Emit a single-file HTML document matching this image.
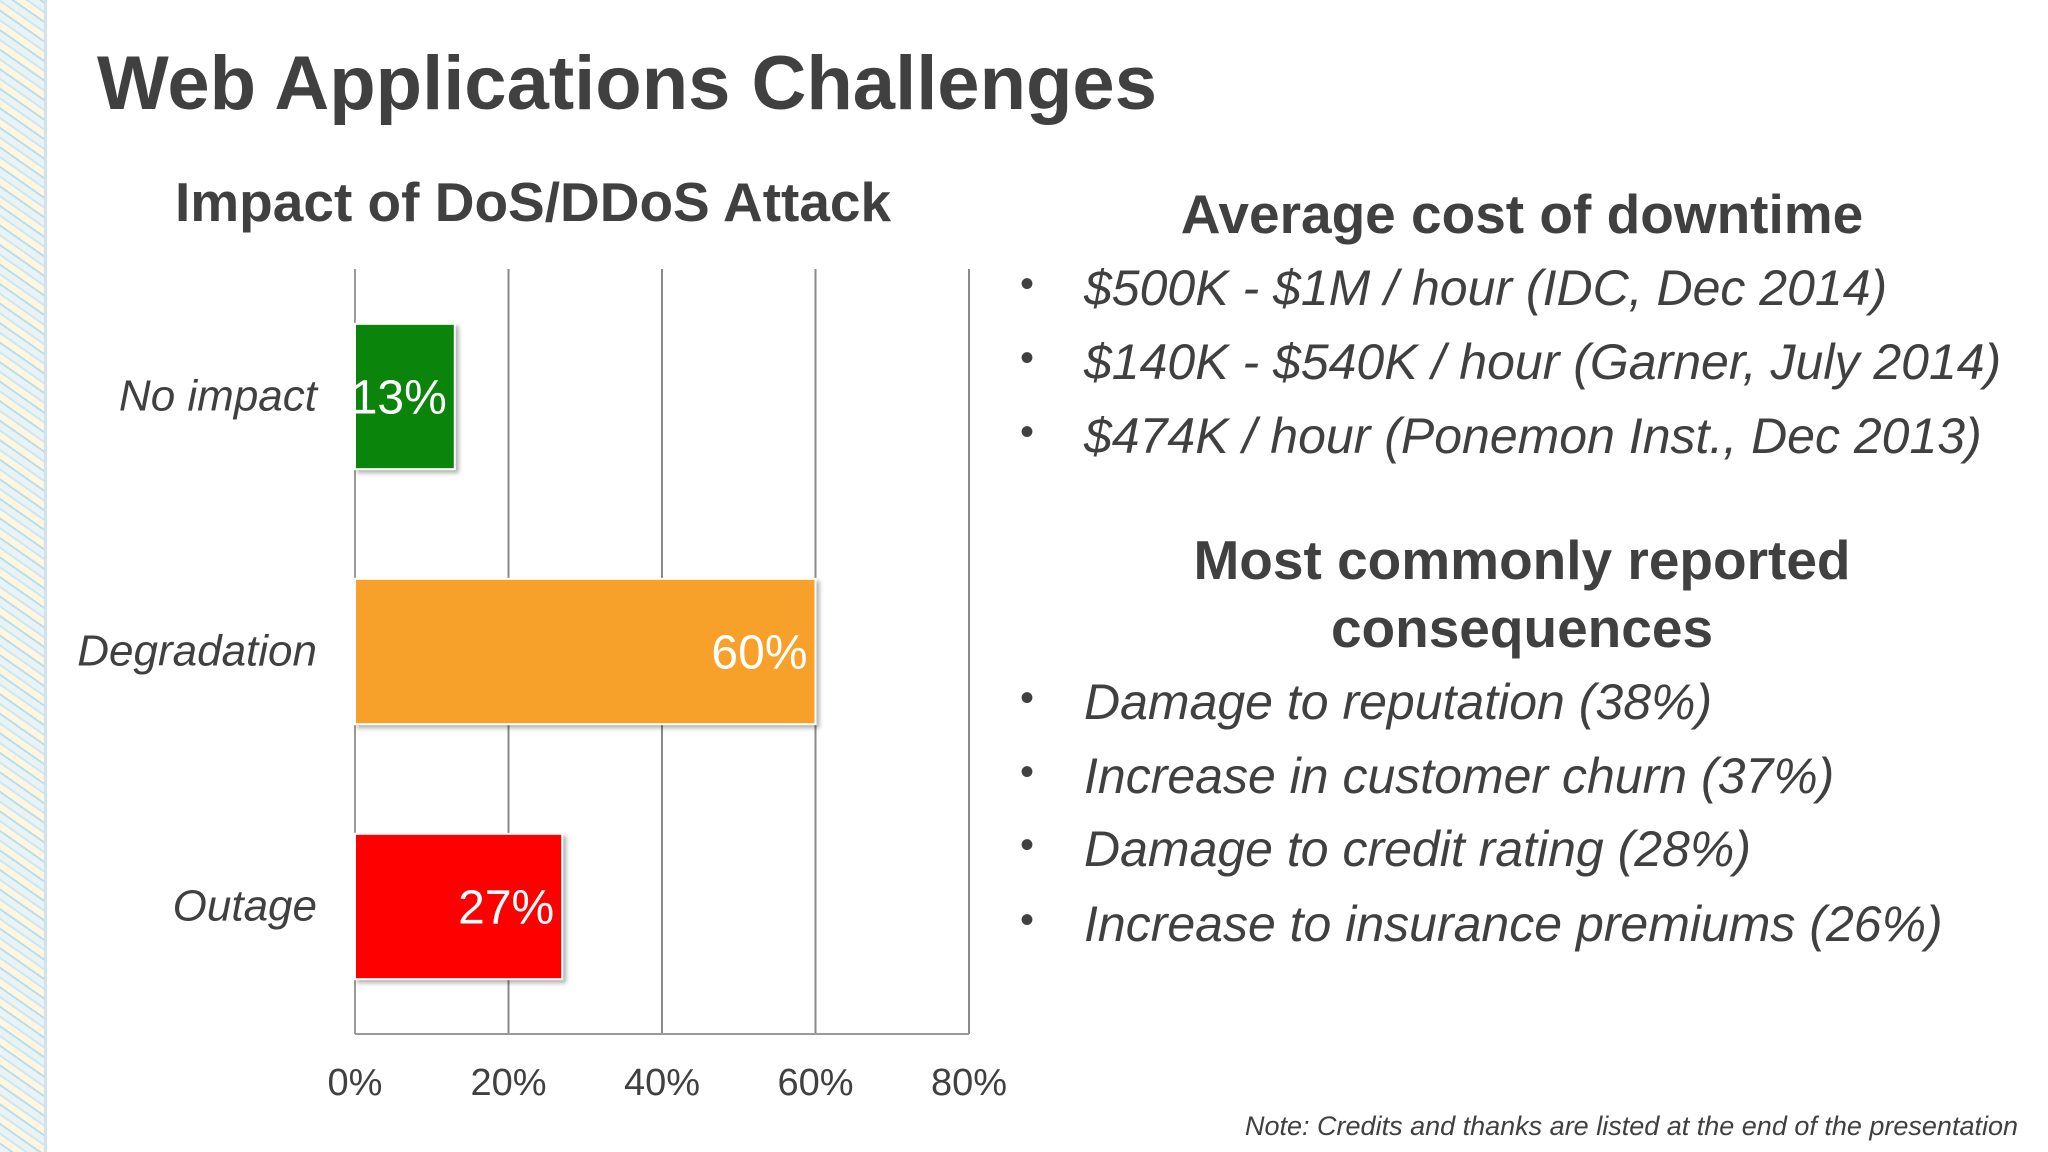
<!DOCTYPE html>
<html><head><meta charset="utf-8"><style>
body{margin:0;width:2048px;height:1152px;background:#fff;position:relative;overflow:hidden;font-family:"Liberation Sans",sans-serif;color:#404040}
.t{position:absolute;white-space:nowrap}
.b{font-weight:bold}
.i{font-style:italic}
</style></head><body>
<div style="position:absolute;left:0;top:0;width:44px;height:1152px;background:repeating-linear-gradient(35deg,#e8f3f8 0 6px,#bcdde8 6px 8px,#fff6e0 8px 14px,#cfe6ef 14px 16px);border-right:3px solid #cfe3ee"></div>
<div class="t b" style="left:97px;top:40px;font-size:76px">Web Applications Challenges</div>
<div class="t b" style="left:175px;top:170px;font-size:55px">Impact of DoS/DDoS Attack</div>
<svg id="chart" width="2048" height="1152" style="position:absolute;left:0;top:0"></svg>
<div class="t b" style="left:1522px;top:182px;font-size:55px;transform:translateX(-50%)">Average cost of downtime</div>
<div>
<div class="t" style="left:1020px;top:262px;font-size:40px">•</div><div class="t i" style="left:1084px;top:259px;font-size:50px">$500K - $1M / hour (IDC, Dec 2014)</div>
<div class="t" style="left:1020px;top:336px;font-size:40px">•</div><div class="t i" style="left:1084px;top:333px;font-size:50px">$140K - $540K / hour (Garner, July 2014)</div>
<div class="t" style="left:1020px;top:410px;font-size:40px">•</div><div class="t i" style="left:1084px;top:407px;font-size:50px">$474K / hour (Ponemon Inst., Dec 2013)</div>
</div>
<div class="t b" style="left:1522px;top:526px;font-size:55px;transform:translateX(-50%);text-align:center;line-height:68px">Most commonly reported<br>consequences</div>
<div>
<div class="t" style="left:1020px;top:676px;font-size:40px">•</div><div class="t i" style="left:1084px;top:673px;font-size:50px">Damage to reputation (38%)</div>
<div class="t" style="left:1020px;top:750px;font-size:40px">•</div><div class="t i" style="left:1084px;top:747px;font-size:50px">Increase in customer churn (37%)</div>
<div class="t" style="left:1020px;top:823px;font-size:40px">•</div><div class="t i" style="left:1084px;top:820px;font-size:50px">Damage to credit rating (28%)</div>
<div class="t" style="left:1020px;top:898px;font-size:40px">•</div><div class="t i" style="left:1084px;top:895px;font-size:50px">Increase to insurance premiums (26%)</div>
</div>
<div class="t i" style="right:30px;top:1111px;font-size:27px">Note: Credits and thanks are listed at the end of the presentation</div>
<script>
const categories=["No impact","Degradation","Outage"];
const values=[13,60,27];
const colors=["#0b840b","#f7a12a","#ff0000"];
const ticks=[0,20,40,60,80];
const svg=document.getElementById('chart');
const NS="http://www.w3.org/2000/svg";
const x0=355,x1=969,yTop=269,yBot=1034,maxV=80;
const xs=v=>x0+(v/maxV)*(x1-x0);
const band=(yBot-yTop)/categories.length;
function mk(t,a){const e=document.createElementNS(NS,t);for(const k in a)e.setAttribute(k,a[k]);svg.appendChild(e);return e;}
ticks.forEach(t=>{
 const l=mk('line',{x1:xs(t),x2:xs(t),y1:yTop,y2:yBot,stroke:t===0?'#9a9a9a':'#8a8a8a','stroke-width':2});
 
 
 const tx=mk('text',{x:xs(t),y:1095,'text-anchor':'middle','font-size':38,fill:'#404040','font-family':'Liberation Sans'});
 tx.textContent=t+'%';
 
 
});
const bl=mk('line',{x1:x0,x2:x1,y1:yBot,y2:yBot,stroke:'#9a9a9a','stroke-width':2});


categories.forEach((c,i)=>{
 const cy=yTop+band*(i+0.5);
 const h=band*0.57;
 const r=mk('rect',{x:x0,y:cy-h/2,width:xs(values[i])-x0,height:h,fill:colors[i],stroke:'#fff','stroke-width':2,style:'filter:drop-shadow(3px 3px 2px rgba(0,0,0,0.3))'});
 
 
 const v=mk('text',{x:xs(values[i])-8,y:cy+17,'text-anchor':'end','font-size':48,fill:'#fff','font-family':'Liberation Sans'});
 v.textContent=values[i]+'%';
 
 
 const lb=mk('text',{x:317,y:cy+14,'text-anchor':'end','font-size':44,fill:'#404040','font-style':'italic','font-family':'Liberation Sans'});
 lb.textContent=c;
 
 
});
</script>
</body></html>
